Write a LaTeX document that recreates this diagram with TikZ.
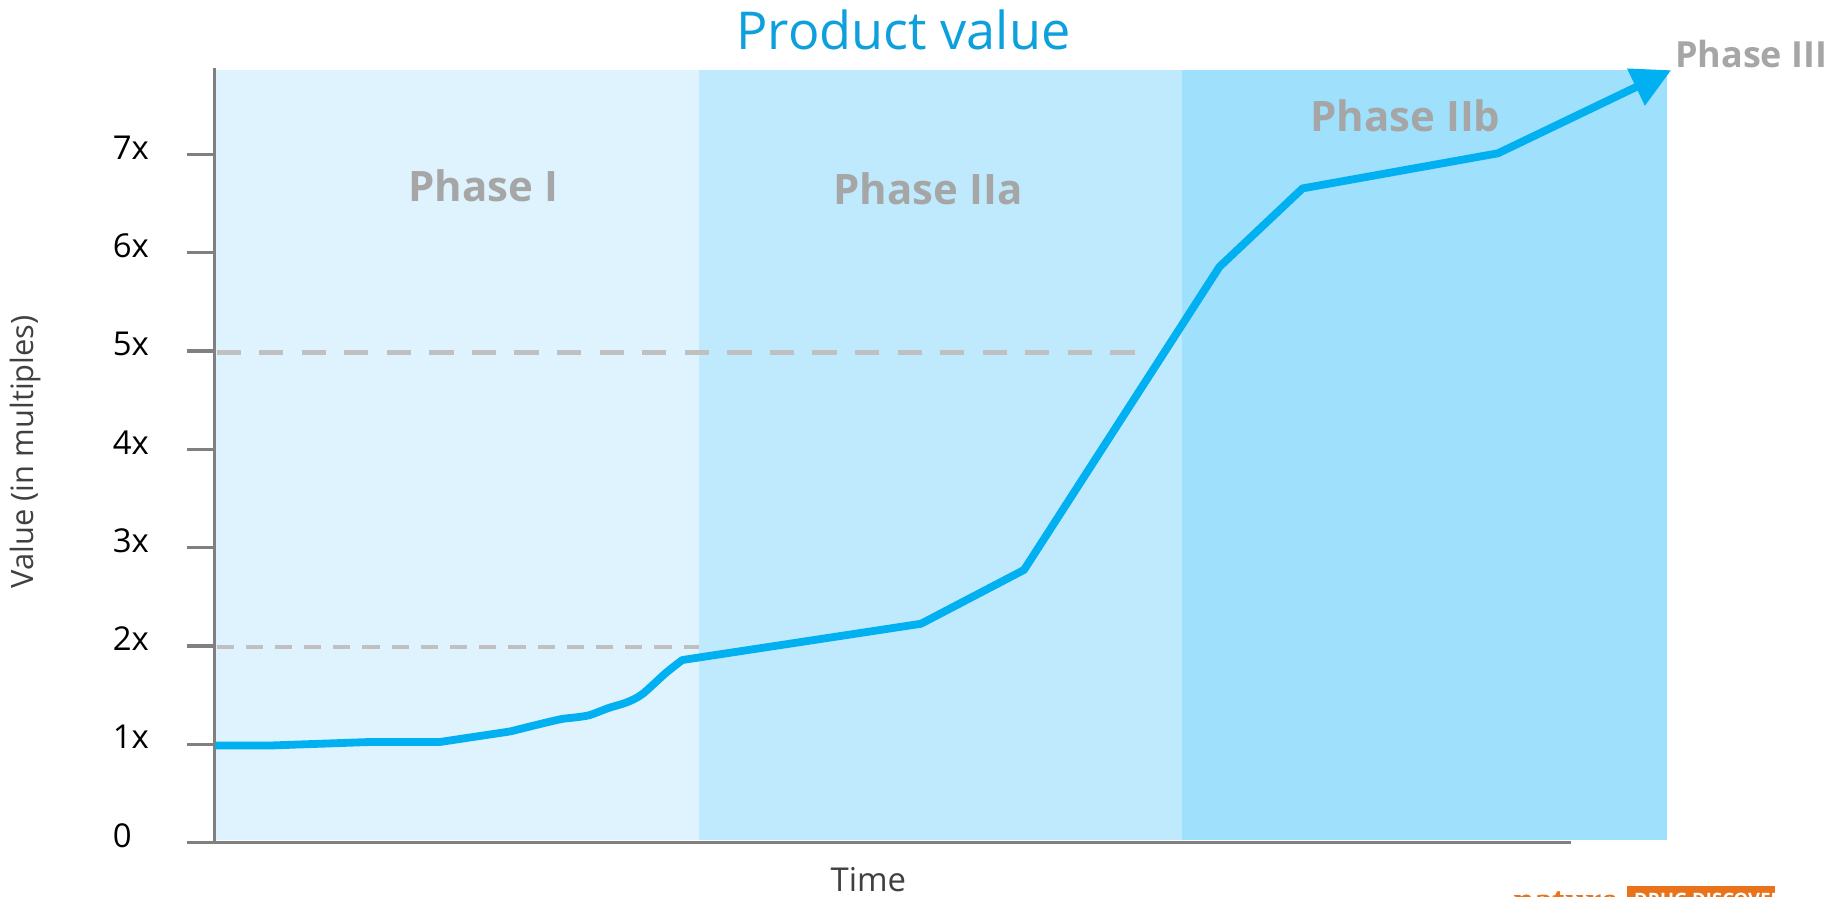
\documentclass[tikz,border=0pt]{standalone}
\usepackage{fontspec}
\setmainfont{Open Sans}
\newfontfamily\naturefont{Liberation Serif}
\usepackage{tikz}
\usetikzlibrary{arrows.meta}

\definecolor{phaseone}{HTML}{DEF3FD}
\definecolor{phasetwoa}{HTML}{BFEAFD}
\definecolor{phasetwob}{HTML}{9FE0FC}
\definecolor{valueblue}{HTML}{00B0F0}
\definecolor{titleblue}{HTML}{0EA0DC}
\definecolor{labelgrey}{HTML}{A6A6A6}
\definecolor{axisgrey}{HTML}{808080}
\definecolor{dashgrey}{HTML}{C0C0C0}
\definecolor{natureorange}{HTML}{E8731A}

\begin{document}
\begin{tikzpicture}[x=0.02cm,y=-0.02cm,
  phaselabel/.style={anchor=base,text=labelgrey,inner sep=0,font=\fontsize{20.4}{23}\selectfont\bfseries},
  ticklabel/.style={anchor=base west,inner sep=0,font=\fontsize{16}{18}\selectfont},
  axisline/.style={axisgrey,line width=1.6pt},
  valueline/.style={valueblue,line width=3.8pt,line join=round,-{Triangle[length=19pt,width=19pt]}}]
 \useasboundingbox (0,0) rectangle (1568,766);

 \fill [phaseone] (183,60) rectangle (597,718); % Phase I の背景
 \fill [phasetwoa] (597,60) rectangle (1010,718);
 \fill [phasetwob] (1010,60) rectangle (1424,718);

 \node [anchor=base,inner sep=0,text=titleblue,font=\fontsize{25.4}{28}\selectfont] (title) at (772,42) {Product value};

 \node [phaselabel] (pI) at (413,172) {Phase I};
 \node [phaselabel] (pIIa) at (793,175) {Phase IIa};
 \node [phaselabel] (pIIb) at (1201,112) {Phase IIb};
 \node [phaselabel,anchor=base west,font=\fontsize{17.5}{20}\selectfont\bfseries] (pIII) at (1431,58) {Phase III};

 \coordinate (O) at (183,720); % 原点
 \coordinate (Y) at (183,58);
 \coordinate (X) at (1342,720);
 \coordinate (X0) at (160,720);

 \draw [dashgrey,line width=1.9pt,dash pattern=on 8.3pt off 5.9pt] (185,553) -- (597,553); % 2x
 \draw [dashgrey,line width=2.6pt,dash pattern=on 11.8pt off 8.9pt] (185,301) -- (974,301); % 5x

 \draw [axisline] (X0) -- (X);
 \draw [axisline] (O) -- (Y);
 \foreach \i in {1,...,7}
  \draw [axisline] (160,720-84*\i) -- (183,720-84*\i);

 \node [ticklabel] (t0) at (96,724) {0};
 \foreach \i in {1,...,7}
  \node [ticklabel] (t\i) at (96,724-84*\i) {\i x};

 \node [rotate=90,inner sep=0,text=black!75,font=\fontsize{15}{17}\selectfont] (ylab) at (22,386) {Value (in multiples)};
 \node [anchor=base,inner sep=0,text=black!75,font=\fontsize{16}{18}\selectfont] (xlab) at (742,762) {Time};

 \coordinate (V0) at (184,637); % 1x から
 \coordinate (V1) at (1428,60); % 矢印の先
 \draw [valueline] (V0) -- (232,637) -- (317,634) -- (376,634) -- (436,625)
  plot [smooth,tension=0.5] coordinates {(436,625) (477,615) (492,613) (504,611)
   (520,605) (536,600) (549,593) (569,575) (583,564)}
  -- (787,533) -- (875,487) -- (1042,228) -- (1113,161) -- (1280,131) -- (V1);

 % ロゴ(下端で切れている)
 \fill [natureorange] (1390,757) rectangle (1517,785);
 \node [anchor=base west,inner sep=0,text=natureorange,font=\naturefont\fontsize{18}{20}\selectfont\bfseries] (nat) at (1293,780) {nature};
 \node [anchor=base west,inner sep=0,text=white,font=\fontsize{9}{10}\selectfont\bfseries] (drug) at (1396,775) {DRUG DISCOVERY};
\end{tikzpicture}
\end{document}
